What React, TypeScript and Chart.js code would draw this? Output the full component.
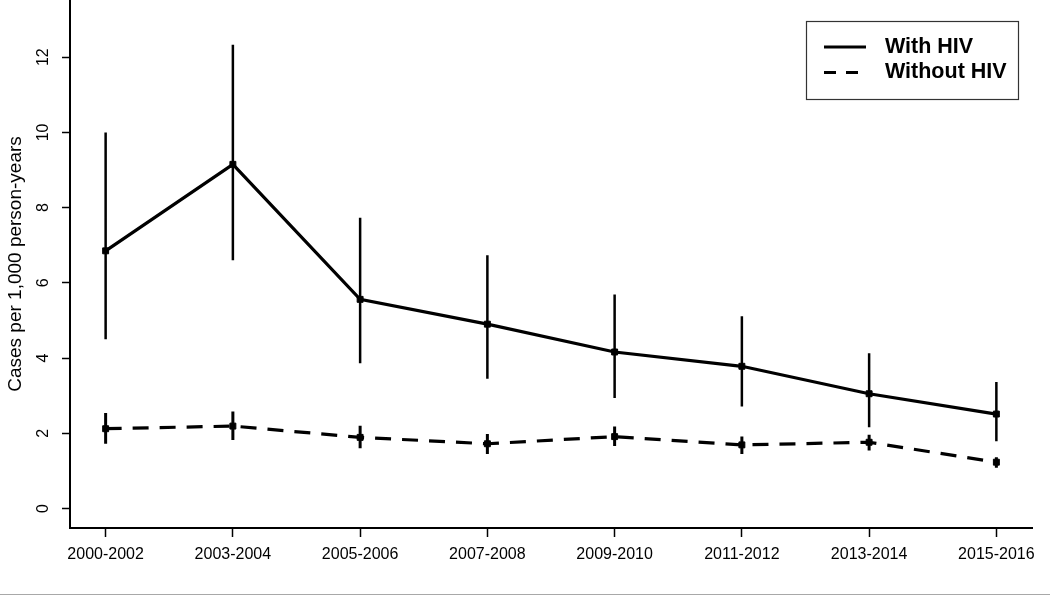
import React, { useEffect, useRef } from 'react';
import { Chart, registerables } from 'chart.js';

Chart.register(...registerables);

const categories = ['2000-2002', '2003-2004', '2005-2006', '2007-2008', '2009-2010', '2011-2012', '2013-2014', '2015-2016'];
const withHiv = [6.85, 9.15, 5.56, 4.9, 4.16, 3.78, 3.05, 2.51];
const withHivLow = [4.5, 6.6, 3.86, 3.45, 2.94, 2.71, 2.16, 1.79];
const withHivHigh = [10.0, 12.33, 7.73, 6.73, 5.69, 5.11, 4.13, 3.36];
const withoutHiv = [2.12, 2.19, 1.89, 1.72, 1.91, 1.69, 1.76, 1.23];
const withoutHivLow = [1.72, 1.82, 1.6, 1.45, 1.66, 1.45, 1.54, 1.08];
const withoutHivHigh = [2.54, 2.58, 2.2, 1.98, 2.18, 1.91, 1.96, 1.36];
const yTicks = [0, 2, 4, 6, 8, 10, 12];
const seriesLabels = ['With HIV', 'Without HIV'];
const yTitle = 'Cases per 1,000 person-years';

const FONT = "'Liberation Sans', Arial, Helvetica, sans-serif";

function pts(values: number[]) {
  return values.map((v, i) => ({ x: i + 1, y: v }));
}
function bars(low: number[], high: number[]) {
  const out: { x: number; y: number | null }[] = [];
  low.forEach((lo, i) => {
    out.push({ x: i + 1, y: lo }, { x: i + 1, y: high[i] }, { x: i + 1, y: null });
  });
  return out;
}

const yLabelPlugin = {
  id: 'rotatedYLabels',
  afterDraw(chart: any) {
    const ctx = chart.ctx;
    const y = chart.scales.y;
    ctx.save();
    ctx.fillStyle = '#000';
    ctx.font = `16px ${FONT}`;
    ctx.textAlign = 'center';
    ctx.textBaseline = 'middle';
    y.ticks.forEach((t: any) => {
      const py = y.getPixelForValue(t.value);
      ctx.save();
      ctx.translate(y.right - 26, py);
      ctx.rotate(-Math.PI / 2);
      ctx.fillText(String(t.value), 0, 0);
      ctx.restore();
    });
    ctx.restore();
  },
};

const legendPlugin = {
  id: 'boxLegend',
  afterDraw(chart: any) {
    const ctx = chart.ctx;
    const area = chart.chartArea;
    const items = chart.data.datasets.filter((d: any) => d.inLegend);
    const bx = area.right - 226;
    const by = area.top + 21;
    const bw = 212;
    const bh = 78;
    ctx.save();
    ctx.strokeStyle = '#333';
    ctx.lineWidth = 1.2;
    ctx.strokeRect(bx + 0.5, by + 0.5, bw, bh);
    items.forEach((d: any, i: number) => {
      const ly = by + 26 + i * 25.5;
      ctx.beginPath();
      ctx.setLineDash(d.legendDash || []);
      ctx.lineWidth = 3;
      ctx.strokeStyle = '#000';
      ctx.moveTo(bx + 18, ly);
      ctx.lineTo(bx + 60, ly);
      ctx.stroke();
      ctx.setLineDash([]);
      ctx.fillStyle = '#000';
      ctx.font = `bold 21.5px ${FONT}`;
      ctx.textAlign = 'left';
      ctx.textBaseline = 'middle';
      ctx.fillText(d.label, bx + 79, ly);
    });
    ctx.restore();
  },
};

export default function App() {
  const ref = useRef<HTMLCanvasElement | null>(null);

  useEffect(() => {
    if (!ref.current) return;
    const chart = new Chart(ref.current, {
      type: 'line',
      data: {
        datasets: [
          {
            label: 'With HIV CI',
            data: bars(withHivLow, withHivHigh),
            borderColor: '#000',
            borderWidth: 2.5,
            pointRadius: 0,
            spanGaps: false,
            borderCapStyle: 'butt',
          } as any,
          {
            label: 'Without HIV CI',
            data: bars(withoutHivLow, withoutHivHigh),
            borderColor: '#000',
            borderWidth: 3,
            pointRadius: 0,
            spanGaps: false,
            borderCapStyle: 'butt',
          } as any,
          {
            label: seriesLabels[0],
            inLegend: true,
            legendDash: [],
            data: pts(withHiv),
            borderColor: '#000',
            backgroundColor: '#000',
            borderWidth: 3.2,
            pointStyle: 'rect',
            pointRadius: 4.2,
            pointBorderWidth: 1,
            tension: 0,
          } as any,
          {
            label: seriesLabels[1],
            inLegend: true,
            legendDash: [12, 10],
            data: pts(withoutHiv),
            borderColor: '#000',
            backgroundColor: '#000',
            borderWidth: 3.2,
            borderDash: [16, 11],
            pointStyle: 'rect',
            pointRadius: 4.2,
            pointBorderWidth: 1,
            tension: 0,
          } as any,
        ],
      },
      options: {
        animation: false,
        responsive: false,
        maintainAspectRatio: false,
        layout: { autoPadding: false, padding: { top: 0, right: 18, bottom: 0, left: 0 } },
        plugins: {
          legend: { display: false },
          tooltip: { enabled: false },
        },
        scales: {
          x: {
            type: 'linear',
            min: 0.72,
            max: 8.28,
            afterBuildTicks: (s: any) => {
              s.ticks = categories.map((_, i) => ({ value: i + 1 }));
            },
            afterFit: (s: any) => {
              s.height = 68;
            },
            ticks: {
              autoSkip: false,
              maxRotation: 0,
              minRotation: 0,
              padding: 8,
              color: '#000',
              font: { family: FONT, size: 16 },
              callback: (_v: any, i: number) => categories[i],
            },
            grid: {
              drawOnChartArea: false,
              drawTicks: true,
              tickLength: 9,
              tickColor: '#000',
              tickWidth: 1.5,
            },
            border: { display: true, color: '#000', width: 2 },
          },
          y: {
            type: 'linear',
            min: -0.52,
            max: 13.52,
            afterBuildTicks: (s: any) => {
              s.ticks = yTicks.map((v) => ({ value: v }));
            },
            afterFit: (s: any) => {
              s.width = 70;
            },
            ticks: { display: false },
            title: {
              display: true,
              text: yTitle,
              color: '#000',
              font: { family: FONT, size: 19 },
              padding: { top: 4, bottom: 0 },
            },
            grid: {
              drawOnChartArea: false,
              drawTicks: true,
              tickLength: 8,
              tickColor: '#000',
              tickWidth: 1.5,
            },
            border: { display: true, color: '#000', width: 2 },
          },
        },
      },
      plugins: [yLabelPlugin, legendPlugin],
    });
    return () => chart.destroy();
  }, []);

  return (
    <div style={{ position: 'fixed', left: 0, top: 0, width: 1050, height: 596, background: '#fff' }}>
      <canvas ref={ref} width={1050} height={596} style={{ display: 'block', width: 1050, height: 596 }} />
      <div style={{ position: 'absolute', left: 0, top: 594, width: 1050, height: 1, background: '#a8a8a8' }} />
    </div>
  );
}
